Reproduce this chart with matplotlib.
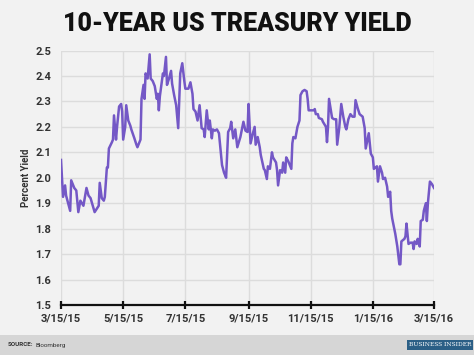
import matplotlib
matplotlib.use("Agg")
import matplotlib.pyplot as plt
import pandas as pd

# 10-year yield
dates = [
    "2015-03-15", "2015-03-17", "2015-03-19", "2015-03-20", "2015-03-24", "2015-03-25",
    "2015-03-28", "2015-03-30", "2015-04-01", "2015-04-03", "2015-04-06", "2015-04-09",
    "2015-04-11", "2015-04-13", "2015-04-17", "2015-04-21", "2015-04-22", "2015-04-24",
    "2015-04-26", "2015-04-27", "2015-04-29", "2015-04-30", "2015-05-01", "2015-05-04",
    "2015-05-05", "2015-05-06", "2015-05-08", "2015-05-09", "2015-05-11", "2015-05-13",
    "2015-05-14", "2015-05-15", "2015-05-17", "2015-05-18", "2015-05-20", "2015-05-22",
    "2015-05-23", "2015-05-26", "2015-05-28", "2015-05-29", "2015-06-01", "2015-06-02",
    "2015-06-04", "2015-06-05", "2015-06-06", "2015-06-07", "2015-06-08", "2015-06-10",
    "2015-06-11", "2015-06-13", "2015-06-15", "2015-06-17", "2015-06-18", "2015-06-19",
    "2015-06-20", "2015-06-23", "2015-06-24", "2015-06-26", "2015-06-27", "2015-06-29",
    "2015-07-01", "2015-07-02", "2015-07-04", "2015-07-06", "2015-07-08", "2015-07-10",
    "2015-07-12", "2015-07-14", "2015-07-15", "2015-07-18", "2015-07-20", "2015-07-22",
    "2015-07-23", "2015-07-25", "2015-07-27", "2015-07-29", "2015-07-31", "2015-08-02",
    "2015-08-03", "2015-08-05", "2015-08-07", "2015-08-08", "2015-08-10", "2015-08-11",
    "2015-08-13", "2015-08-15", "2015-08-17", "2015-08-19", "2015-08-20", "2015-08-22",
    "2015-08-24", "2015-08-26", "2015-08-28", "2015-08-29", "2015-08-31", "2015-09-02",
    "2015-09-04", "2015-09-07", "2015-09-10", "2015-09-12", "2015-09-14", "2015-09-15",
    "2015-09-17", "2015-09-19", "2015-09-21", "2015-09-22", "2015-09-24", "2015-09-26",
    "2015-09-27", "2015-09-30", "2015-10-01", "2015-10-03", "2015-10-04", "2015-10-06",
    "2015-10-08", "2015-10-09", "2015-10-12", "2015-10-13", "2015-10-14", "2015-10-16",
    "2015-10-18", "2015-10-19", "2015-10-21", "2015-10-22", "2015-10-24", "2015-10-27",
    "2015-10-28", "2015-10-29", "2015-10-31", "2015-11-02", "2015-11-04", "2015-11-05",
    "2015-11-07", "2015-11-09", "2015-11-11", "2015-11-12", "2015-11-13", "2015-11-15",
    "2015-11-18", "2015-11-19", "2015-11-20", "2015-11-22", "2015-11-23", "2015-11-26",
    "2015-11-27", "2015-11-30", "2015-12-01", "2015-12-02", "2015-12-03", "2015-12-05",
    "2015-12-06", "2015-12-08", "2015-12-10", "2015-12-11", "2015-12-13", "2015-12-15",
    "2015-12-17", "2015-12-19", "2015-12-20", "2015-12-22", "2015-12-24", "2015-12-26",
    "2015-12-28", "2015-12-29", "2015-12-31", "2016-01-02", "2016-01-05", "2016-01-07",
    "2016-01-08", "2016-01-10", "2016-01-11", "2016-01-13", "2016-01-15", "2016-01-16",
    "2016-01-19", "2016-01-20", "2016-01-22", "2016-01-24", "2016-01-25", "2016-01-27",
    "2016-01-29", "2016-01-30", "2016-02-01", "2016-02-02", "2016-02-03", "2016-02-06",
    "2016-02-08", "2016-02-10", "2016-02-11", "2016-02-12", "2016-02-15", "2016-02-16",
    "2016-02-17", "2016-02-19", "2016-02-21", "2016-02-23", "2016-02-24", "2016-02-25",
    "2016-02-27", "2016-02-28", "2016-03-01", "2016-03-02", "2016-03-04", "2016-03-05",
    "2016-03-07", "2016-03-08", "2016-03-09", "2016-03-11", "2016-03-13", "2016-03-15",
]
yields = [
    2.07, 1.925, 1.97, 1.93, 1.87, 1.99,
    1.96, 1.95, 1.865, 1.91, 1.89, 1.96,
    1.93, 1.92, 1.865, 1.89, 1.98, 1.92,
    1.91, 1.925, 2.04, 2.04, 2.115, 2.14,
    2.15, 2.245, 2.15, 2.20, 2.28, 2.29,
    2.26, 2.15, 2.20, 2.285, 2.225, 2.205,
    2.19, 2.155, 2.13, 2.12, 2.15, 2.31,
    2.365, 2.31, 2.41, 2.40, 2.39, 2.485,
    2.39, 2.38, 2.36, 2.31, 2.33, 2.265,
    2.32, 2.41, 2.40, 2.475, 2.365, 2.39,
    2.42, 2.37, 2.325, 2.285, 2.195, 2.41,
    2.45, 2.38, 2.35, 2.35, 2.375, 2.33,
    2.27, 2.26, 2.225, 2.285, 2.195, 2.19,
    2.16, 2.265, 2.19, 2.225, 2.155, 2.19,
    2.185, 2.19, 2.175, 2.09, 2.05, 2.02,
    2.00, 2.18, 2.195, 2.22, 2.155, 2.19,
    2.12, 2.16, 2.22, 2.185, 2.18, 2.29,
    2.135, 2.17, 2.20, 2.13, 2.16, 2.12,
    2.09, 2.035, 2.03, 1.995, 2.045, 2.035,
    2.10, 2.08, 2.06, 2.03, 1.97, 2.03,
    2.02, 2.06, 2.02, 2.08, 2.065, 2.035,
    2.135, 2.16, 2.155, 2.20, 2.225, 2.325,
    2.34, 2.345, 2.34, 2.31, 2.265, 2.265,
    2.265, 2.27, 2.25, 2.25, 2.235, 2.23,
    2.22, 2.20, 2.14, 2.20, 2.31, 2.26,
    2.235, 2.23, 2.23, 2.13, 2.195, 2.29,
    2.24, 2.20, 2.19, 2.23, 2.25, 2.24,
    2.24, 2.305, 2.275, 2.25, 2.24, 2.195,
    2.115, 2.155, 2.175, 2.095, 2.08, 2.035,
    2.045, 1.985, 2.045, 2.02, 1.995, 2.00,
    1.965, 1.925, 1.945, 1.87, 1.84, 1.78,
    1.73, 1.66, 1.66, 1.75, 1.76, 1.77,
    1.82, 1.74, 1.745, 1.745, 1.72, 1.75,
    1.74, 1.76, 1.73, 1.83, 1.835, 1.87,
    1.90, 1.83, 1.90, 1.985, 1.975, 1.96,
]

tick_dates = ["2015-03-15", "2015-05-15", "2015-07-15", "2015-09-15",
              "2015-11-15", "2016-01-15", "2016-03-15"]
tick_labels = ["3/15/15", "5/15/15", "7/15/15", "9/15/15", "11/15/15", "1/15/16", "3/15/16"]
y_ticks = [1.5, 1.6, 1.7, 1.8, 1.9, 2.0, 2.1, 2.2, 2.3, 2.4, 2.5]

bg = "#f2f2f2"
purple = "#7458c6"
plt.rcParams["font.family"] = ["Roboto", "DejaVu Sans"]

fig = plt.figure(figsize=(4.74, 3.55), dpi=100, facecolor=bg)
ax = fig.add_axes([0.1287, 0.1408, 0.7869, 0.7169], facecolor=bg)

x = pd.to_datetime(dates)
ax.plot(x, yields, color=purple, lw=1.8, solid_joinstyle="round", zorder=3)

ax.set_xlim(pd.Timestamp(tick_dates[0]), pd.Timestamp(tick_dates[-1]))
ax.set_ylim(1.5, 2.5)
ax.set_xticks(pd.to_datetime(tick_dates))
ax.set_xticklabels(tick_labels)
ax.set_yticks(y_ticks)
ax.set_yticklabels([f"{v:.1f}" for v in y_ticks])

ax.grid(True, color="#dcdcdc", lw=1.0, zorder=0)
for s in ["top", "right", "left"]:
    ax.spines[s].set_visible(False)
ax.spines["bottom"].set_color("#111111")
ax.spines["bottom"].set_linewidth(1.6)
ax.spines["bottom"].set_zorder(4)

ax.tick_params(axis="x", direction="inout", length=6, width=1.6, color="#111111",
               labelsize=8, labelcolor="#333333", pad=3)
ax.tick_params(axis="y", length=0, labelsize=8, labelcolor="#333333", pad=7)
for lab in ax.get_xticklabels() + ax.get_yticklabels():
    lab.set_fontweight("bold")

ax.set_ylabel("Percent Yield", fontsize=7, color="#333333", fontweight="bold", labelpad=3)

fig.text(0.5, 0.932, "10-YEAR US TREASURY YIELD", ha="center", va="center",
         fontsize=18, fontweight="heavy", color="#111111")

# footer band
fig.patches.append(plt.Rectangle((0, 0), 1, 20 / 355, transform=fig.transFigure,
                                 facecolor="#d6d6d6", edgecolor="none", zorder=0))
src = fig.text(0.017, 10 / 355, "SOURCE:", fontsize=4.5, fontweight="bold", color="#333333",
               va="center", ha="left")
bb = src.get_window_extent(renderer=fig.canvas.get_renderer())
fig.text(bb.x1 / fig.bbox.width + 0.004, 10 / 355, "Bloomberg", fontsize=4.5,
         color="#333333", va="center", ha="left")
fig.text(0.928, 10 / 355, "BUSINESS INSIDER", fontsize=4.2, color="white", va="center",
         ha="center", family="DejaVu Serif",
         bbox=dict(boxstyle="square,pad=0.35", facecolor="#2b5f86", edgecolor="none"))

fig.savefig("out.png", dpi=100, facecolor=bg)
